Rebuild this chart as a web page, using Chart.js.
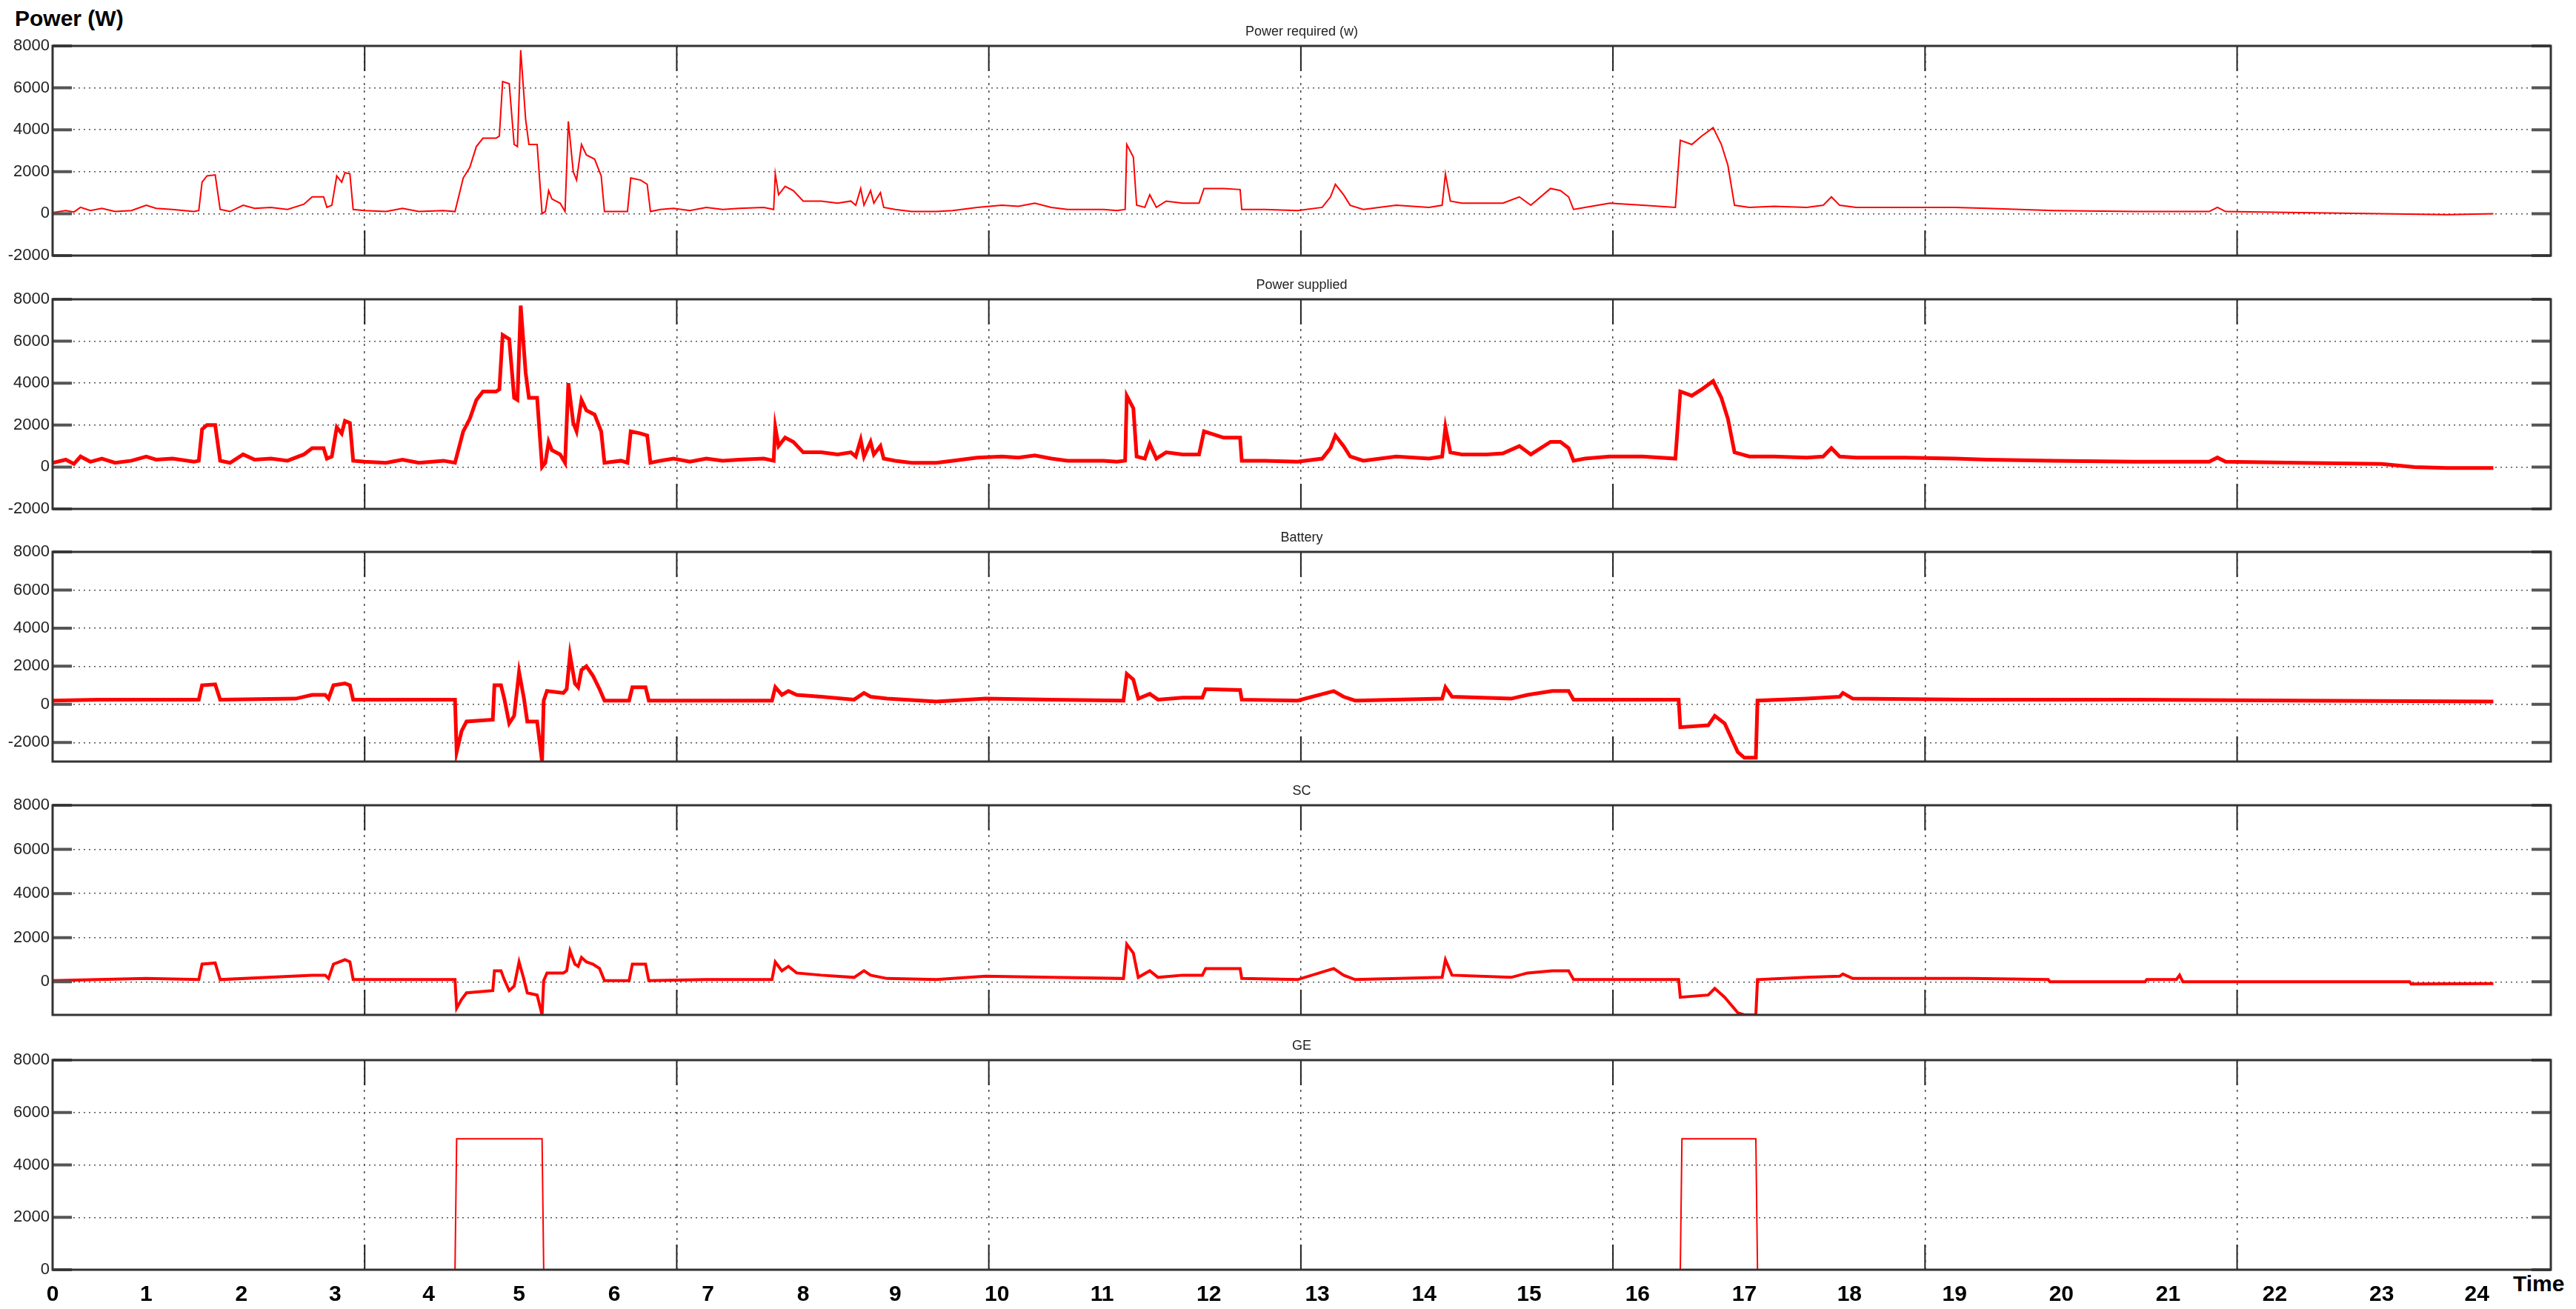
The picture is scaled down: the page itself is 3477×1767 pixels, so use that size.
<!DOCTYPE html>
<html>
<head>
<title>Power flows</title>
<script src="https://cdn.jsdelivr.net/npm/chart.js"></script>
<style>
  body { margin: 0; background: #fff; }
  #wrap { position: relative; width: 3477px; height: 1767px; font-family: "Liberation Sans", Arial, sans-serif; }
  .panel { position: absolute; left: 0; width: 3477px; }
  .lbl { position: absolute; font-weight: bold; font-size: 30px; color: #000; }
</style>
</head>
<body>
<div id="wrap">
  <div class="lbl" style="left:20px;top:8px;">Power (W)</div>
  <div class="lbl" style="left:3392px;top:1716px;">Time</div>
</div>
<script>
// x values are positions along the reference time axis (axis units), y in W
const hourLabels = ['0','1','2','3','4','5','6','7','8','9','10','11','12','13','14','15','16','17','18','19','20','21','22','23','24'];
const hourPos = [32, 89, 147, 204, 261, 316, 374, 431, 489, 545, 607, 671, 736, 802, 867, 931, 997, 1062, 1126, 1190, 1255, 1320, 1385, 1450, 1508];
const gridPos = [222, 412, 602, 792, 982, 1172, 1362];

const required = [[32,50],[40,150],[45,80],[49,300],[55,150],[62,250],[70,100],[80,150],[89,400],[95,250],[105,200],[118,100],[121,150],[123,1500],[126,1800],[131,1850],[134,200],[140,100],[148,400],[155,250],[165,300],[175,200],[185,450],[190,800],[197,800],[199,300],[202,400],[205,1800],[208,1500],[210,1950],[213,1900],[215,200],[222,150],[235,100],[245,250],[255,100],[270,150],[277,100],[282,1700],[286,2200],[290,3200],[294,3600],[302,3600],[304,3700],[306,6300],[310,6200],[313,3300],[315,3200],[317,7800],[320,4500],[322,3300],[327,3300],[330,0],[332,100],[334,1100],[336,700],[341,500],[344,100],[346,4400],[349,2000],[351,1600],[354,3300],[357,2800],[362,2600],[366,1800],[368,100],[378,100],[382,100],[384,1700],[390,1600],[394,1400],[396,100],[402,200],[410,250],[420,150],[430,300],[440,200],[450,250],[465,300],[471,200],[472,1900],[474,900],[478,1300],[483,1100],[489,600],[500,600],[510,500],[518,600],[521,400],[524,1200],[526,400],[530,1100],[532,500],[536,1000],[538,300],[545,200],[555,100],[570,100],[580,150],[595,300],[610,400],[620,350],[630,500],[640,300],[650,200],[660,200],[672,200],[680,150],[685,200],[686,3300],[690,2700],[692,400],[697,300],[700,900],[704,300],[710,600],[720,500],[730,500],[733,1200],[745,1200],[755,1150],[756,200],[770,200],[790,150],[805,300],[810,800],[813,1400],[818,900],[822,400],[830,200],[850,400],[870,300],[878,400],[880,1900],[883,600],[890,500],[905,500],[915,500],[925,800],[932,400],[944,1200],[950,1100],[955,800],[958,200],[965,300],[980,500],[1000,400],[1020,300],[1023,3500],[1030,3300],[1036,3700],[1043,4100],[1048,3300],[1052,2300],[1056,400],[1065,300],[1080,350],[1100,300],[1110,400],[1115,800],[1120,400],[1130,300],[1160,300],[1190,300],[1210,250],[1250,150],[1300,100],[1345,100],[1350,300],[1355,100],[1400,50],[1450,0],[1490,-50],[1518,0]];

const supplied = [[32,200],[40,350],[45,150],[49,500],[55,250],[62,400],[70,200],[80,300],[89,500],[95,350],[105,400],[118,250],[121,300],[123,1800],[126,2000],[131,2000],[134,300],[140,200],[148,600],[155,350],[165,400],[175,300],[185,600],[190,900],[197,900],[199,400],[202,500],[205,1900],[208,1600],[210,2200],[213,2100],[215,300],[222,250],[235,200],[245,350],[255,200],[270,300],[277,200],[282,1700],[286,2300],[290,3200],[294,3600],[302,3600],[304,3700],[306,6300],[310,6100],[313,3300],[315,3200],[317,7700],[320,4500],[322,3300],[327,3300],[330,0],[332,200],[334,1200],[336,800],[341,600],[344,200],[346,4000],[349,2100],[351,1700],[354,3200],[357,2700],[362,2500],[366,1700],[368,200],[378,300],[382,200],[384,1700],[390,1600],[394,1500],[396,200],[402,300],[410,400],[420,250],[430,400],[440,300],[450,350],[465,400],[471,300],[472,1900],[474,1000],[478,1400],[483,1200],[489,700],[500,700],[510,600],[518,700],[521,500],[524,1300],[526,500],[530,1200],[532,600],[536,1000],[538,400],[545,300],[555,200],[570,200],[580,300],[595,450],[610,500],[620,450],[630,550],[640,400],[650,300],[660,300],[672,300],[680,250],[685,300],[686,3400],[690,2800],[692,500],[697,400],[700,1100],[704,400],[710,700],[720,600],[730,600],[733,1700],[745,1400],[755,1400],[756,300],[770,300],[790,250],[805,400],[810,900],[813,1500],[818,1000],[822,500],[830,300],[850,500],[870,400],[878,500],[880,1900],[883,700],[890,600],[905,600],[915,650],[925,1000],[932,600],[944,1200],[950,1200],[955,900],[958,300],[965,400],[980,500],[1000,500],[1020,400],[1023,3600],[1030,3400],[1036,3700],[1043,4100],[1048,3300],[1052,2300],[1056,700],[1065,500],[1080,500],[1100,450],[1110,500],[1115,900],[1120,500],[1130,450],[1160,450],[1190,400],[1210,350],[1250,300],[1300,250],[1345,250],[1350,450],[1355,250],[1400,200],[1450,150],[1470,0],[1490,-50],[1518,-50]];

const battery = [[32,200],[60,250],[89,250],[121,250],[123,1000],[131,1050],[134,250],[180,300],[190,500],[198,500],[200,300],[203,1000],[210,1100],[213,1000],[215,250],[250,250],[277,250],[278,-2500],[281,-1400],[284,-900],[300,-800],[301,1000],[305,1000],[307,300],[310,-1000],[313,-600],[316,1700],[319,300],[321,-900],[327,-900],[330,-3000],[331,200],[333,700],[343,600],[345,800],[347,2600],[350,1100],[352,900],[354,1800],[357,2000],[361,1500],[365,800],[368,200],[383,200],[385,900],[393,900],[395,200],[430,200],[470,200],[472,900],[476,500],[480,700],[485,500],[500,400],[520,250],[526,600],[530,400],[540,300],[570,150],[600,300],[640,250],[684,200],[686,1600],[690,1300],[693,300],[700,550],[705,250],[720,350],[732,350],[734,800],[755,750],[756,250],[790,200],[812,700],[818,400],[825,200],[878,300],[880,900],[884,400],[920,300],[930,500],[945,700],[955,700],[958,250],[1000,250],[1022,250],[1023,-1200],[1040,-1100],[1044,-600],[1050,-1000],[1058,-2500],[1062,-2800],[1069,-2800],[1070,200],[1100,300],[1120,400],[1122,600],[1128,300],[1200,250],[1300,250],[1400,200],[1518,150]];

const sc = [[32,50],[60,100],[89,150],[121,100],[123,800],[131,850],[134,100],[190,300],[198,300],[200,150],[203,800],[210,1000],[213,900],[215,100],[277,100],[278,-1200],[281,-800],[284,-500],[300,-400],[301,500],[305,500],[307,100],[310,-400],[313,-200],[316,900],[319,100],[321,-500],[327,-600],[330,-1500],[331,50],[333,400],[343,400],[345,500],[347,1400],[350,800],[352,700],[354,1100],[357,900],[361,800],[365,600],[368,50],[383,50],[385,800],[393,800],[395,50],[430,100],[470,100],[472,900],[476,500],[480,700],[485,400],[500,300],[520,200],[526,500],[530,300],[540,150],[570,100],[600,250],[640,200],[684,150],[686,1700],[690,1300],[693,200],[700,500],[705,200],[720,300],[732,300],[734,600],[755,600],[756,150],[790,100],[812,600],[818,300],[825,100],[878,200],[880,1000],[884,300],[920,200],[930,400],[945,500],[955,500],[958,100],[1000,100],[1022,100],[1023,-700],[1040,-600],[1044,-300],[1050,-700],[1058,-1400],[1062,-1500],[1069,-1500],[1070,100],[1100,200],[1120,250],[1122,350],[1128,150],[1200,150],[1247,100],[1248,0],[1306,0],[1307,100],[1325,100],[1327,300],[1329,0],[1467,0],[1468,-100],[1518,-80]];

const ge = [[32,0],[277,0],[278,5000],[330,5000],[331,0],[1023,0],[1024,5000],[1069,5000],[1070,0],[1518,0]];

const panels = [
  { title: 'Power required (w)', data: required, top: 62, min: -2000, ticks: [-2000, 0, 2000, 4000, 6000, 8000], width: 2 },
  { title: 'Power supplied', data: supplied, top: 404, min: -2000, ticks: [-2000, 0, 2000, 4000, 6000, 8000], width: 5 },
  { title: 'Battery', data: battery, top: 745, min: -3000, ticks: [-2000, 0, 2000, 4000, 6000, 8000], width: 5 },
  { title: 'SC', data: sc, top: 1087, min: -1500, ticks: [0, 2000, 4000, 6000, 8000], width: 4 },
  { title: 'GE', data: ge, top: 1431, min: 0, ticks: [0, 2000, 4000, 6000, 8000], width: 2 }
];

const PLOT_H = 283, PAD_TOP = 40, PAD_BOT = 20, AXIS_W = 71, PAD_R = 34;

const framePlugin = {
  id: 'frame',
  afterDraw(chart, args, opts) {
    const c = chart.ctx, a = chart.chartArea;
    const ys = chart.scales.y, xg = chart.scales.xg;
    c.save();
    c.strokeStyle = '#555';
    c.lineWidth = 4;
    ys.ticks.forEach(t => {
      const py = ys.getPixelForValue(t.value);
      c.beginPath();
      c.moveTo(a.left, py); c.lineTo(a.left + 26, py);
      c.moveTo(a.right, py); c.lineTo(a.right - 26, py);
      c.stroke();
    });
    c.strokeStyle = '#222';
    c.lineWidth = 2;
    gridPos.forEach(v => {
      const px = xg.getPixelForValue(v);
      c.beginPath();
      c.moveTo(px, a.top); c.lineTo(px, a.top + 34);
      c.moveTo(px, a.bottom); c.lineTo(px, a.bottom - 34);
      c.stroke();
    });
    c.strokeStyle = '#333';
    c.lineWidth = 3;
    c.strokeRect(a.left, a.top, a.right - a.left, a.bottom - a.top);
    c.fillStyle = '#222';
    c.font = '18px "Liberation Sans", Arial, sans-serif';
    c.textAlign = 'center';
    c.textBaseline = 'bottom';
    c.fillText(opts.text, (a.left + a.right) / 2, a.top - 10);
    c.restore();
  }
};

const wrap = document.getElementById('wrap');

panels.forEach((p, i) => {
  const last = i === panels.length - 1;
  const xAxisH = last ? 48 : 0;
  const h = PAD_TOP + PLOT_H + xAxisH + PAD_BOT;
  const div = document.createElement('div');
  div.className = 'panel';
  div.style.top = (p.top - PAD_TOP) + 'px';
  div.style.height = h + 'px';
  const cv = document.createElement('canvas');
  div.appendChild(cv);
  wrap.appendChild(div);

  new Chart(cv.getContext('2d'), {
    type: 'line',
    data: {
      datasets: [{
        data: p.data.map(d => ({ x: d[0], y: d[1] })),
        borderColor: '#ff0000',
        borderWidth: p.width,
        pointRadius: 0,
        tension: 0
      }]
    },
    options: {
      responsive: true,
      maintainAspectRatio: false,
      devicePixelRatio: 1,
      animation: false,
      events: [],
      layout: { padding: { top: PAD_TOP, bottom: PAD_BOT, left: 0, right: PAD_R } },
      plugins: { legend: { display: false }, tooltip: { enabled: false }, frame: { text: p.title } },
      scales: {
        x: {
          type: 'linear', min: 32, max: 1553,
          display: last,
          grid: { display: false },
          border: { display: false },
          afterBuildTicks: s => { s.ticks = hourPos.map(v => ({ value: v })); },
          afterFit: s => { s.height = xAxisH; },
          ticks: {
            autoSkip: false, maxRotation: 0, padding: 8,
            color: '#000',
            font: { family: '"Liberation Sans", Arial, sans-serif', size: 30, weight: 'bold' },
            callback: (v, idx) => hourLabels[idx]
          }
        },
        xg: {
          type: 'linear', min: 32, max: 1553, position: 'bottom',
          afterBuildTicks: s => { s.ticks = gridPos.map(v => ({ value: v })); },
          afterFit: s => { s.height = 0; },
          ticks: { display: false },
          grid: { color: '#444', lineWidth: 1.5, drawTicks: false },
          border: { display: false, dash: [3, 7] }
        },
        y: {
          min: p.min, max: 8000,
          afterBuildTicks: s => { s.ticks = p.ticks.map(v => ({ value: v })); },
          afterFit: s => { s.width = AXIS_W; },
          grid: { color: '#555', lineWidth: 1.5, drawTicks: false },
          border: { display: false, dash: [2, 5] },
          ticks: {
            padding: 4,
            color: '#222',
            font: { family: '"Liberation Sans Narrow", "Liberation Sans", Arial, sans-serif', size: 22 },
            callback: v => String(v)
          }
        }
      }
    },
    plugins: [framePlugin]
  });
});
</script>
</body>
</html>
